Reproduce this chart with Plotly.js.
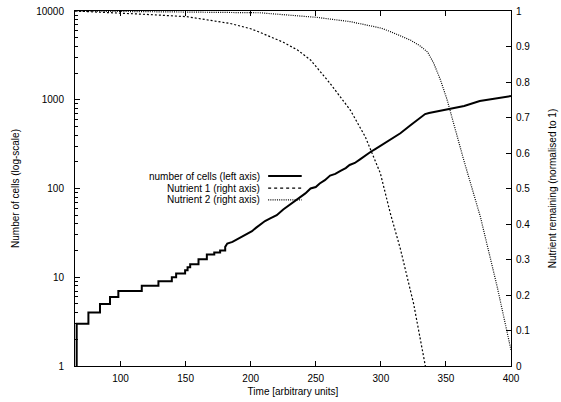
<!DOCTYPE html>
<html>
<head>
<meta charset="utf-8">
<script src="https://cdn.plot.ly/plotly-3.0.1.min.js"></script>
<style>html,body{margin:0;padding:0;background:#fff;}#chart{width:561px;height:402px;}</style>
</head>
<body>
<div id="chart"></div>
<script>
// ---- data ----
var seriesNames = ['number of cells (left axis)', 'Nutrient 1 (right axis)', 'Nutrient 2 (right axis)'];

// number of cells (step-wise growth, duplicated times encode the steps)
var cellTime = [66, 66.3, 66.3, 75.3, 75.3, 84.2, 84.2, 91.9, 91.9, 98.3, 98.3, 116.3, 116.3, 129.1, 129.1, 139.4, 139.4, 142.7, 142.7, 149.6, 149.6, 151.5, 151.5, 153.5, 153.5, 159.9, 159.9, 166.3, 166.3, 172, 172, 176.5, 176.5, 180.4, 180.4, 182, 186, 190, 194, 197, 201, 204, 207,
  211, 215, 220, 225, 230, 234, 238, 242, 246, 250, 253, 257, 261, 265, 269, 273, 276, 280, 284, 288, 292, 296, 300, 307, 315, 323, 334, 337, 351, 364, 376, 389, 400];
var cellCount = [1, 1, 3, 3, 4, 4, 5, 5, 6, 6, 7, 7, 8, 8, 9, 9, 10, 10, 11, 11, 12, 12, 13, 13, 14, 14, 16, 16, 18, 18, 19, 19, 20, 20, 22, 24, 25, 27, 29, 31, 33, 36, 39,
  43, 46, 50, 58, 66, 72, 80, 88, 100, 104, 114, 124, 140, 146, 158, 170, 184, 194, 213, 236, 258, 280, 305, 352, 419, 519, 690, 710, 778, 850, 968, 1028, 1100];

// Nutrient 1 (right axis)
var n1Time = [65, 100, 122, 151, 184, 200, 207, 225, 236, 246, 261, 276.5, 288, 299.6, 307.3, 315, 322, 325.2, 334.2];
var n1Value = [1.0, 0.995, 0.99, 0.984, 0.965, 0.95, 0.94, 0.912, 0.89, 0.862, 0.796, 0.721, 0.646, 0.543, 0.43, 0.33, 0.225, 0.175, 0];

// Nutrient 2 (right axis)
var n2Time = [65, 150, 207, 251, 276.5, 300, 307.3, 322.7, 330.4, 336, 340.6, 345.8, 350.9, 363.7, 376.5, 389.4, 400];
var n2Value = [1.0, 0.998, 0.995, 0.982, 0.97, 0.952, 0.942, 0.918, 0.901, 0.884, 0.853, 0.806, 0.75, 0.58, 0.42, 0.223, 0.045];

var FONT = {family: 'Liberation Sans, Arial, sans-serif', size: 10, color: '#000'};
var DASH1 = '2px,2px';
var DASH2 = '1px,1.2px';

var traces = [
  {x: cellTime, y: cellCount, type: 'scatter', mode: 'lines', name: seriesNames[0],
   line: {color: '#000', width: 2}, xaxis: 'x', yaxis: 'y'},
  {x: n1Time, y: n1Value, type: 'scatter', mode: 'lines', name: seriesNames[1],
   line: {color: '#000', width: 1.2, dash: DASH1}, xaxis: 'x', yaxis: 'y2'},
  {x: n2Time, y: n2Value, type: 'scatter', mode: 'lines', name: seriesNames[2],
   line: {color: '#000', width: 1.2, dash: DASH2}, xaxis: 'x', yaxis: 'y2'}
];

// legend drawn as right-aligned text with sample line to the right (gnuplot style)
var legY = [0.535, 0.501, 0.468];
var legDash = ['solid', '3px,3px', DASH2];
var legWidth = [2, 1.2, 1.2];
var annotations = [], shapes = [];
for (var i = 0; i < seriesNames.length; i++) {
  annotations.push({xref: 'paper', yref: 'paper', x: 0.428, y: legY[i], xanchor: 'right', yanchor: 'middle',
    text: seriesNames[i], showarrow: false, font: FONT});
  shapes.push({type: 'line', xref: 'paper', yref: 'paper', x0: 0.443, x1: 0.52, y0: legY[i], y1: legY[i],
    line: {color: '#000', width: legWidth[i], dash: legDash[i]}});
}

var layout = {
  width: 561, height: 402,
  margin: {l: 75, r: 50, t: 11, b: 36},
  paper_bgcolor: '#fff', plot_bgcolor: '#fff',
  font: FONT,
  showlegend: false,
  xaxis: {
    range: [65, 400], tick0: 0, dtick: 50,
    ticks: 'inside', ticklen: 5, tickcolor: '#000',
    showline: true, linecolor: '#000', linewidth: 1, mirror: 'ticks',
    showgrid: false, zeroline: false,
    ticklabelstandoff: 3,
    title: {text: 'Time [arbitrary units]', font: FONT, standoff: 4}
  },
  yaxis: {
    type: 'log', range: [0, 4], dtick: 1,
    exponentformat: 'none', tickformat: 'd',
    ticks: 'inside', ticklen: 5, tickcolor: '#000',
    minor: {ticks: 'inside', ticklen: 3, dtick: 'D1', tickcolor: '#000', showgrid: false},
    showline: true, linecolor: '#000', linewidth: 1,
    showgrid: false, zeroline: false,
    ticklabelstandoff: 8,
    title: {text: 'Number of cells (log-scale)', font: FONT, standoff: 14}
  },
  yaxis2: {
    overlaying: 'y', side: 'right', range: [0, 1], dtick: 0.1, tick0: 0,
    ticks: 'inside', ticklen: 5, tickcolor: '#000',
    showline: true, linecolor: '#000', linewidth: 1,
    showgrid: false, zeroline: false,
    ticklabelstandoff: 2,
    title: {text: 'Nutrient remaining (normalised to 1)', font: FONT, standoff: 19}
  },
  annotations: annotations,
  shapes: shapes
};

Plotly.newPlot('chart', traces, layout, {staticPlot: true, displayModeBar: false});
</script>
</body>
</html>
